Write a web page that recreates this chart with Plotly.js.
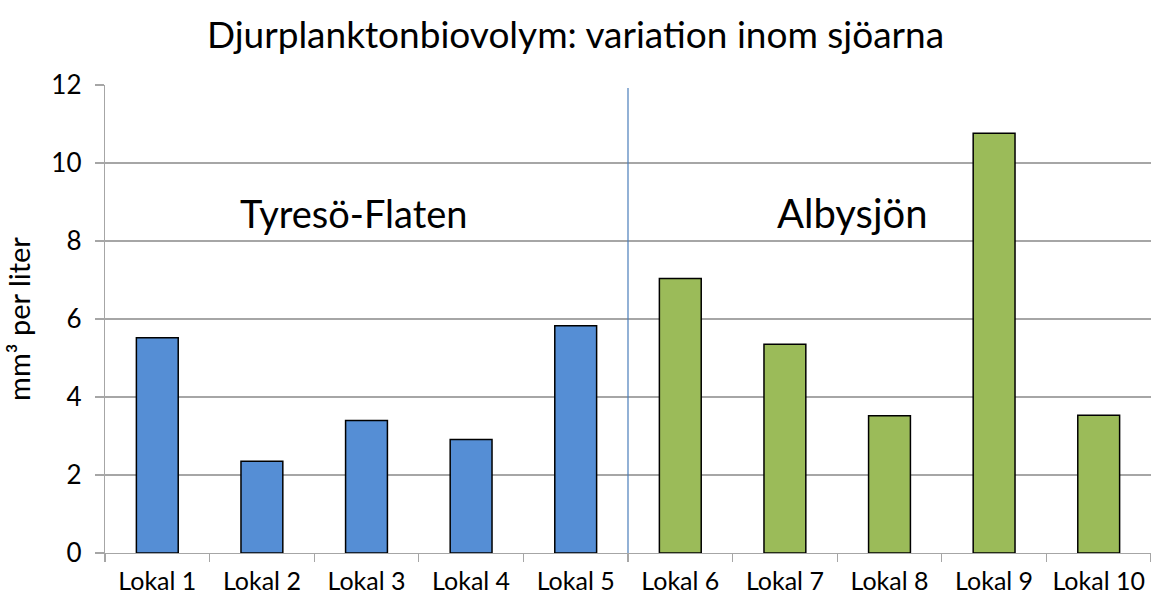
<!DOCTYPE html>
<html>
<head>
<meta charset="utf-8">
<script src="https://cdn.plot.ly/plotly-3.0.1.min.js"></script>
<style>html,body{margin:0;padding:0;background:#fff;}#chart{width:1151px;height:601px;}</style>
</head>
<body>
<div id="chart"></div>
<script>
const categories = ["Lokal 1","Lokal 2","Lokal 3","Lokal 4","Lokal 5","Lokal 6","Lokal 7","Lokal 8","Lokal 9","Lokal 10"];
const values = [5.52, 2.35, 3.40, 2.91, 5.83, 7.04, 5.35, 3.52, 10.76, 3.53];
const lakeOfBar = ["Tyresö-Flaten","Tyresö-Flaten","Tyresö-Flaten","Tyresö-Flaten","Tyresö-Flaten","Albysjön","Albysjön","Albysjön","Albysjön","Albysjön"];
const lakeNames = ["Tyresö-Flaten","Albysjön"];
const lakeColors = {"Tyresö-Flaten":"#558ed5","Albysjön":"#9bbb59"};
const yTicks = [0,2,4,6,8,10,12];

const FONT = "Lato, 'Open Sans', sans-serif";

const trace = {
  type: "bar",
  x: categories,
  y: values,
  width: 0.4,
  marker: {
    color: lakeOfBar.map(l => lakeColors[l]),
    line: {color: "#000000", width: 1.5}
  },
  hoverinfo: "x+y",
  showlegend: false
};

const layout = {
  width: 1151,
  height: 601,
  margin: {l: 105, r: 0, t: 85, b: 48},
  paper_bgcolor: "#ffffff",
  plot_bgcolor: "#ffffff",
  font: {family: FONT, color: "#000000"},
  title: {
    text: "Djurplanktonbiovolym: variation inom sjöarna",
    font: {family: FONT, size: 37, color: "#000000"},
    x: 0.5, xref: "container",
    y: 1 - 35/601, yref: "container", yanchor: "middle"
  },
  xaxis: {
    type: "category",
    range: [-0.5, 9.5],
    showgrid: false,
    showline: true,
    linecolor: "#a6a6a6",
    linewidth: 1.3,
    ticks: "outside",
    tickson: "boundaries",
    ticklen: 8,
    tickwidth: 1.3,
    tickcolor: "#a6a6a6",
    ticklabelstandoff: 6,
    tickfont: {family: FONT, size: 25, color: "#000000"},
    fixedrange: true
  },
  yaxis: {
    range: [0, 12],
    tickvals: yTicks,
    ticktext: yTicks.map(String),
    showgrid: true,
    gridcolor: "#a6a6a6",
    gridwidth: 1.3,
    zeroline: false,
    showline: true,
    linecolor: "#a6a6a6",
    linewidth: 1.3,
    ticks: "outside",
    ticklen: 9,
    tickwidth: 1.3,
    tickcolor: "#a6a6a6",
    ticklabelstandoff: 8,
    tickfont: {family: FONT, size: 26, color: "#000000"},
    title: {text: "mm³ per liter", font: {family: FONT, size: 29, color: "#000000"}, standoff: 12},
    fixedrange: true
  },
  shapes: [{
    type: "line",
    xref: "x", yref: "y",
    x0: 4.5, x1: 4.5, y0: 0, y1: 11.92,
    line: {color: "#4a7ebb", width: 1.2}
  }],
  annotations: [
    {text: lakeNames[0], xref: "paper", yref: "paper", x: 0.238, y: 0.727, showarrow: false,
     font: {family: FONT, size: 38, color: "#000000"}, xanchor: "center", yanchor: "middle"},
    {text: lakeNames[1], xref: "paper", yref: "paper", x: 0.715, y: 0.727, showarrow: false,
     font: {family: FONT, size: 40, color: "#000000"}, xanchor: "center", yanchor: "middle"}
  ]
};

Plotly.newPlot("chart", [trace], layout, {displayModeBar: false, staticPlot: true});
</script>
</body>
</html>
